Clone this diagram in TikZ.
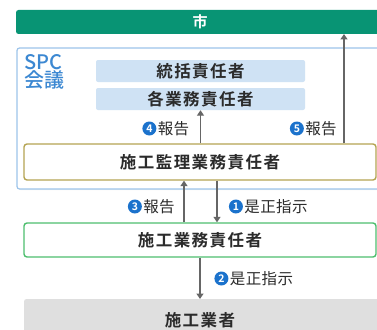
\documentclass[tikz,border=0pt]{standalone}
\usepackage{fontspec}
\setmainfont{Noto Sans CJK JP}[BoldFont={Noto Sans CJK JP Bold}]
\newfontfamily\boxfont{Noto Sans CJK JP Bold}[LetterSpace=9]
\newfontfamily\lblfont{Noto Sans CJK JP}[LetterSpace=3]
\newfontfamily\spcfont{Noto Sans CJK JP Medium}
\usetikzlibrary{arrows.meta,positioning,shadows}
\definecolor{cityGreen}{HTML}{089474}
\definecolor{spcBorder}{HTML}{9DC4EA}
\definecolor{spcText}{HTML}{3C88D2}
\definecolor{roleFill}{HTML}{CFE2F4}
\definecolor{supBorder}{HTML}{B5A452}
\definecolor{wrkBorder}{HTML}{4DBE6E}
\definecolor{grayFill}{HTML}{DFDFDF}
\definecolor{arrowGray}{HTML}{666666}
\definecolor{numBlue}{HTML}{1B72CC}
\definecolor{txtDark}{HTML}{2B2B2B}
\tikzset{
  boxtext/.style={font=\boxfont\fontsize{16.5}{19}\selectfont, text=txtDark},
  rolebox/.style={boxtext, fill=roleFill, rounded corners=2pt, inner sep=0pt, anchor=center},
  framebox/.style={boxtext, fill=white, rounded corners=3pt, line width=1.4pt, inner sep=0pt},
  lbl/.style={font=\lblfont\fontsize{15.5}{18}\selectfont, text=txtDark, inner sep=0pt},
  numc/.style={circle, fill=numBlue, text=white, inner sep=0pt, minimum size=14pt,
     font=\bfseries\fontsize{10.5}{10.5}\selectfont},
  conn/.style={draw=arrowGray, line width=1.7pt, -{Triangle[length=5.5pt,width=7pt]}},
}
\begin{document}
\begin{tikzpicture}[x=1pt,y=-1pt]
\useasboundingbox (0,0) rectangle (377,329);
% city
\fill[cityGreen, rounded corners=2.5pt] (16,10) rectangle (395,34);
\node[font=\bfseries\fontsize{15}{16}\selectfont, text=white] (city) at (200,22) {市};
\coordinate (cityB) at (344,34);
% SPC
\draw[spcBorder, line width=1.2pt, fill=white, rounded corners=2.5pt,
  drop shadow={opacity=0.12, shadow xshift=1pt, shadow yshift=-1pt}] (17,48) rectangle (395,189);
\node[font=\spcfont\fontsize{20}{16}\selectfont, text=spcText, align=left, anchor=north west, inner sep=0pt] (spc) at (24,54.5) {SPC\\会議};
\node[rolebox, minimum width=209pt, minimum height=22pt] (r1) at (200.5,71) {統括責任者};
\node[rolebox, minimum width=209pt, minimum height=22pt] (r2) at (200.5,99) {各業務責任者};
% supervisor
\node[framebox, draw=supBorder, minimum width=352pt, minimum height=36pt] (sup) at (200,162) {施工監理業務責任者};
% works manager
\node[framebox, draw=wrkBorder, minimum width=352pt, minimum height=34pt] (wrk) at (200,240) {施工業務責任者};
% contractor
\fill[grayFill, rounded corners=2.5pt] (24,299) rectangle (395,345);
\node[boxtext] (con) at (200,320) {施工業者};
\coordinate (conT) at (200,299);
% arrows
\draw[conn] (sup.north -| r2.south) -- (r2.south);
\draw[conn] (sup.north -| cityB) -- (cityB);
\draw[conn] ([xshift=-16pt]wrk.north) -- ([xshift=-16pt]sup.south);
\draw[conn] ([xshift=17pt]sup.south) -- ([xshift=17pt]wrk.north);
\draw[conn] (wrk.south) -- (conT);
% labels
\node[lbl] (l4) at (173.5,128.5) {報告};
\node[numc, left=1pt of l4] (n4) {4};
\node[lbl] (l5) at (321,128.5) {報告};
\node[numc, left=1pt of l5] (n5) {5};
\node[lbl] (l3) at (159,206.5) {報告};
\node[numc, left=1pt of l3] (n3) {3};
\node[lbl] (l1) at (276,206.5) {是正指示};
\node[numc, left=1pt of l1] (n1) {1};
\node[lbl] (l2) at (261.5,278.5) {是正指示};
\node[numc, left=1pt of l2] (n2) {2};
\end{tikzpicture}
\end{document}
